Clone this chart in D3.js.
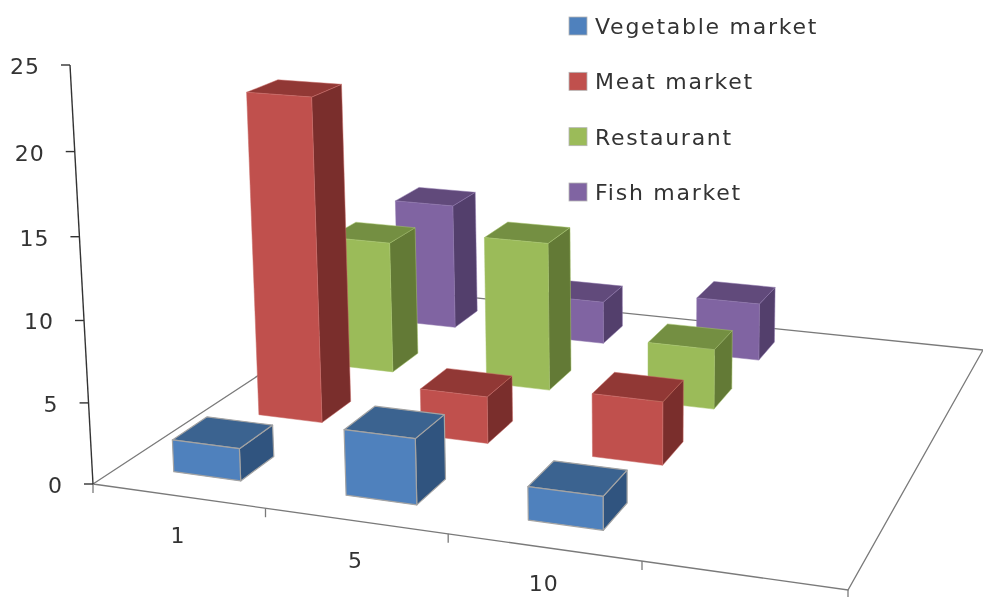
<!DOCTYPE html>
<html>
<head>
<meta charset="utf-8">
<script src="https://d3js.org/d3.v7.min.js"></script>
<style>
  html, body { margin: 0; background: #fff; }
  svg { filter: blur(0.45px); }
  text { font-family: "DejaVu Sans", sans-serif; fill: #333; font-size: 22px; letter-spacing: 1px; }
  text.legend { letter-spacing: 1.75px; }
</style>
</head>
<body>
<script>
// Data
const categories = ["1", "5", "10", ""];
const seriesNames = ["Vegetable market", "Meat market", "Restaurant", "Fish market"];
const vegetable = [2, 4, 2];
const meat = [21, 3, 4];
const restaurant = [9, 10, 4];
const fish = [9, 3, 4];
const yTicks = [0, 5, 10, 15, 20, 25];

const seriesValues = [vegetable, meat, restaurant, fish];
const frontColors = ["#4f81bd", "#c0504d", "#9bbb59", "#8064a2"];
const topColors = ["#3b6390", "#913835", "#748f42", "#614a7b"];
const sideColors = ["#30547f", "#7a2e2c", "#637a36", "#533f6c"];
const edgeColors = ["#a3a3a3", "#c96a67", "#a6c46c", "#8d74ab"];
const edgeWidths = [1.2, 0.5, 0.5, 0.5];

const width = 983, height = 597;

// Floor corners and top of the value axis on the page
const p00 = [93, 484], p10 = [848, 590], p01 = [390, 289], p11 = [983, 350], axisTop = [70, 65];
const persp = -0.04;

// Perspective: floor homography from the unit square, plus a height column
const den = (p10[0] - p11[0]) * (p01[1] - p11[1]) - (p01[0] - p11[0]) * (p10[1] - p11[1]);
const sx = p00[0] - p10[0] + p11[0] - p01[0], sy = p00[1] - p10[1] + p11[1] - p01[1];
const g = (sx * (p01[1] - p11[1]) - (p01[0] - p11[0]) * sy) / den;
const h = ((p10[0] - p11[0]) * sy - sx * (p10[1] - p11[1])) / den;
const ax = p10[0] - p00[0] + g * p10[0], bx = p01[0] - p00[0] + h * p01[0];
const ay = p10[1] - p00[1] + g * p10[1], by = p01[1] - p00[1] + h * p01[1];
const cx = axisTop[0] * (1 + persp) - p00[0], cy = axisTop[1] * (1 + persp) - p00[1];

function project(u, v, w) {
  const d = g * u + h * v + persp * w + 1;
  return [(ax * u + bx * v + cx * w + p00[0]) / d, (ay * u + by * v + cy * w + p00[1]) / d];
}

const xBand = d3.scaleBand().domain(categories).range([0, 1]).paddingInner(0.605).paddingOuter(0.3025).align(0.545);
const xTick = d3.scaleBand().domain(categories).range([0, 1]);
const zBand = d3.scaleBand().domain(seriesNames).range([0, 1]).paddingInner(0.6).paddingOuter(0.3).align(0.52);
const yScale = d3.scaleLinear().domain([0, 25]).range([0, 1]);
// bars drift slightly to the right going back
const xDrift = d3.scaleLinear().domain([0, 1]).range([-0.006, 0.007]);

const svg = d3.select("body").append("svg").attr("width", width).attr("height", height);
const toPath = pts => "M" + pts.map(p => p[0].toFixed(1) + "," + p[1].toFixed(1)).join("L") + "Z";
const line = d3.line();

// Floor outline
const floor = svg.append("g").attr("stroke", "#7a7a7a").attr("stroke-width", 1.3).attr("fill", "none");
floor.append("path").attr("d", line([project(0, 0, 0), project(1, 0, 0), project(1, 1, 0), project(0, 1, 0), project(0, 0, 0)]));

// Category ticks and labels along the front edge
categories.forEach(c => {
  const p = project(xTick(c), 0, 0);
  floor.append("path").attr("d", line([p, [p[0], p[1] + 9]]));
  if (c) {
    const m = project(xTick(c) + xTick.bandwidth() / 2, 0, 0);
    svg.append("text").attr("x", m[0]).attr("y", Math.min(m[1] + 47, 591)).attr("text-anchor", "middle").text(c);
  }
});
const pEnd = project(1, 0, 0);
floor.append("path").attr("d", line([pEnd, [pEnd[0], pEnd[1] + 9]]));

// Value axis
svg.append("path").attr("d", line([project(0, 0, yScale(0)), project(0, 0, yScale(25))]))
  .attr("stroke", "#333").attr("stroke-width", 1.4).attr("fill", "none");
yTicks.forEach(t => {
  const p = project(0, 0, yScale(t));
  svg.append("path").attr("d", line([[p[0] - 9, p[1]], p])).attr("stroke", "#333").attr("stroke-width", 1.4);
  svg.append("text").attr("x", p[0] - 30).attr("y", p[1] + 9).attr("text-anchor", "end").text(t);
});

// Bars, back row first
d3.range(seriesNames.length - 1, -1, -1).forEach(s => {
  seriesValues[s].forEach((val, i) => {
    const v0 = zBand(seriesNames[s]), v1 = v0 + zBand.bandwidth();
    const u0 = xBand(categories[i]) + xDrift(v0), u1 = u0 + xBand.bandwidth();
    const w = yScale(val);
    const box = svg.append("g").attr("stroke", edgeColors[s]).attr("stroke-width", edgeWidths[s]).attr("stroke-linejoin", "round");
    box.append("path").attr("fill", sideColors[s])
      .attr("d", toPath([project(u1, v0, 0), project(u1, v1, 0), project(u1, v1, w), project(u1, v0, w)]));
    box.append("path").attr("fill", topColors[s])
      .attr("d", toPath([project(u0, v0, w), project(u1, v0, w), project(u1, v1, w), project(u0, v1, w)]));
    box.append("path").attr("fill", frontColors[s])
      .attr("d", toPath([project(u0, v0, 0), project(u1, v0, 0), project(u1, v0, w), project(u0, v0, w)]));
  });
});

// Legend
const legendY = d3.scaleLinear().domain([0, 3]).range([26, 192]);
seriesNames.forEach((name, s) => {
  svg.append("rect").attr("x", 569).attr("y", legendY(s) - 9).attr("width", 18).attr("height", 18)
    .attr("fill", frontColors[s]).attr("stroke", "#b5b5b5").attr("stroke-width", 0.8);
  svg.append("text").attr("class", "legend").attr("x", 595).attr("y", legendY(s) + 8).text(name);
});
</script>
</body>
</html>
